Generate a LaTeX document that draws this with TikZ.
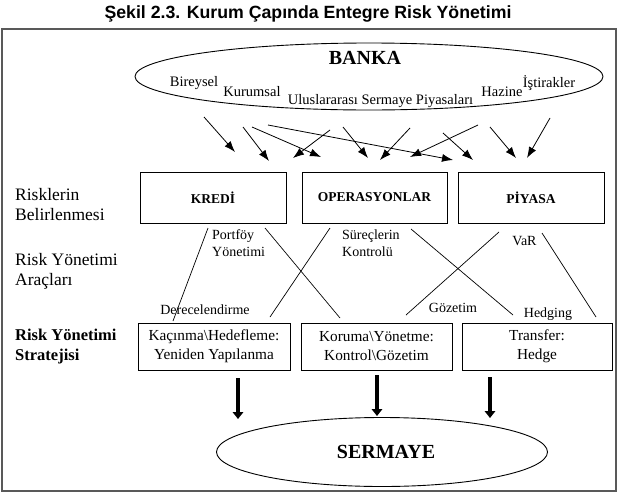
\documentclass[tikz,border=0pt]{standalone}
\usepackage{fontspec}
\setmainfont{Liberation Serif}
\newfontfamily\titlefont{Liberation Sans}
\usetikzlibrary{arrows.meta,shapes.geometric}
\begin{document}
\begin{tikzpicture}[x=1pt,y=-1pt,
  lbl/.style={font=\fontsize{17.5}{20}\selectfont, align=left, anchor=west, inner sep=0pt},
  rbox/.style={draw, line width=0.9pt, minimum height=51pt, inner sep=0pt, font=\bfseries\fontsize{13.5}{16}\selectfont},
  sbox/.style={draw, line width=0.9pt, minimum height=47pt, align=center, inner sep=0pt, font=\fontsize{15.3}{19}\selectfont},
  sm/.style={font=\fontsize{14.5}{17}\selectfont, inner sep=0pt},
  tool/.style={font=\fontsize{14}{17}\selectfont, inner sep=0pt, align=left},
  crossline/.style={line width=0.7pt},
  arr/.style={line width=0.8pt, -{Latex[length=11pt,width=8pt]}},
  bigarr/.style={line width=4.5pt, -{Triangle[length=7pt,width=10.5pt]}},
  oval/.style={draw, ellipse, line width=0.9pt, inner sep=0pt},
]
\path[use as bounding box] (0,0) rectangle (621,493);
\fill[white] (0,0) rectangle (621,493);
% frame and title
\draw[line width=1.4pt, black!65] (2,29) rectangle (616,491);
\node[font=\titlefont\bfseries\fontsize{17.7}{20}\selectfont] (title) at (308,14) {Şekil 2.3. Kurum Çapında Entegre Risk Yönetimi};

% BANKA
\node[oval, minimum width=468pt, minimum height=67pt] (banka) at (369,76.5) {};
\node[font=\bfseries\fontsize{20}{24}\selectfont, inner sep=0pt] (bankat) at (365,58) {BANKA};
\node[sm] (bireysel) at (194,83) {Bireysel};
\node[sm] (kurumsal) at (252,92) {Kurumsal};
\node[sm] (ulus) at (380.5,101) {Uluslararası Sermaye Piyasaları};
\node[sm] (hazine) at (502,92) {Hazine};
\node[sm] (istirak) at (549,83) {İştirakler};

% left labels
\node[lbl] (l1) at (15,205) {Risklerin\\Belirlenmesi};
\node[lbl] (l2) at (15,271) {Risk Yönetimi\\Araçları};
\node[lbl, font=\bfseries\fontsize{16.5}{20}\selectfont] (l3) at (15,347) {Risk Yönetimi\\Stratejisi};

% risk boxes
\node[rbox, minimum width=146pt] (kredi) at (213,197.5) {KREDİ};
\node[rbox, minimum width=145pt] (oper) at (374.5,197.5) {OPERASYONLAR};
\node[rbox, minimum width=146pt] (piyasa) at (531,197.5) {PİYASA};

% strategy boxes
\node[sbox, minimum width=152pt] (s1) at (214,346.5) {Kaçınma\textbackslash Hedefleme:\\Yeniden Yapılanma};
\node[sbox, minimum width=151pt] (s2) at (376.5,346.5) {Koruma\textbackslash Yönetme:\\Kontrol\textbackslash Gözetim};
\node[sbox, minimum width=150pt] (s3) at (537,346.5) {Transfer:\\Hedge};

% SERMAYE
\node[oval, minimum width=331pt, minimum height=69pt] (sermaye) at (382,452) {};
\node[font=\bfseries\fontsize{20}{24}\selectfont, inner sep=0pt] (sermayet) at (386,452) {SERMAYE};

% tool labels
\node[tool, anchor=west] (portfoy) at (212,243.5) {Portföy\\Yönetimi};
\node[tool, anchor=west] (surec) at (342,243.5) {Süreçlerin\\Kontrolü};
\node[tool] (var) at (524.5,241) {VaR};
\node[tool] (derece) at (205,310) {Derecelendirme};
\node[tool] (gozetim) at (453,308) {Gözetim};
\node[tool] (hedging) at (548,314) {Hedging};

% top arrows
\coordinate (a1s) at (204,117);  \coordinate (a1e) at (235,152);
\coordinate (a2s) at (243,127);  \coordinate (a2e) at (269,161);
\coordinate (a3s) at (252,127);  \coordinate (a3e) at (321,157);
\coordinate (a4s) at (330,130);  \coordinate (a4e) at (293,158);
\coordinate (a5s) at (343,127);  \coordinate (a5e) at (368,158);
\coordinate (a6s) at (410,128);  \coordinate (a6e) at (380,160);
\coordinate (a7s) at (268,125);  \coordinate (a7e) at (453,160);
\coordinate (a8s) at (478,125);  \coordinate (a8e) at (410,157);
\coordinate (a9s) at (443,133);  \coordinate (a9e) at (473,160);
\coordinate (a10s) at (490,127); \coordinate (a10e) at (516,158);
\coordinate (a11s) at (550,118); \coordinate (a11e) at (527,158);
\foreach \i in {1,...,11} {\draw[arr] (a\i s) -- (a\i e);}

% cross lines
\coordinate (c1s) at (208,228); \coordinate (c1e) at (173,321);
\coordinate (c2s) at (265,228); \coordinate (c2e) at (340,318);
\coordinate (c3s) at (330,228); \coordinate (c3e) at (270,317);
\coordinate (c4s) at (411,229); \coordinate (c4e) at (513,315);
\coordinate (c5s) at (499,232); \coordinate (c5e) at (406,315);
\coordinate (c6s) at (542,233); \coordinate (c6e) at (596,317);
\foreach \i in {1,...,6} {\draw[crossline] (c\i s) -- (c\i e);}

% thick arrows
\coordinate (t1s) at (238,378); \coordinate (t1e) at (238,419);
\coordinate (t2s) at (377,375); \coordinate (t2e) at (377,416);
\coordinate (t3s) at (490,377); \coordinate (t3e) at (490,418);
\foreach \i in {1,2,3} {\draw[bigarr] (t\i s) -- (t\i e);}
\end{tikzpicture}
\end{document}
